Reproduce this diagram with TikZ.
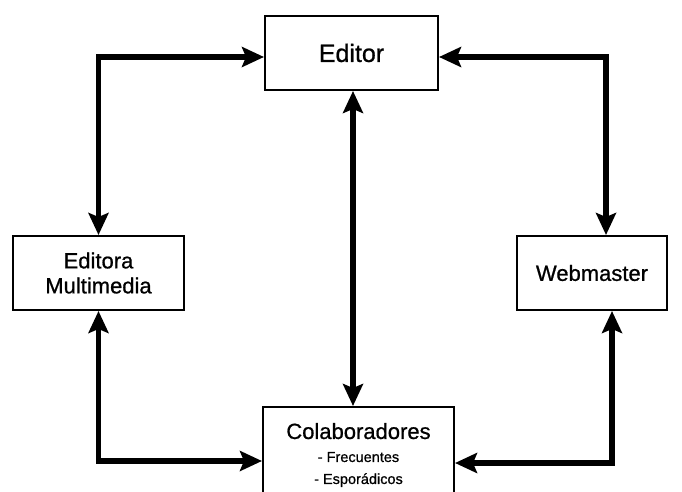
\documentclass[tikz,border=0pt]{standalone}
\usepackage{fontspec}
\setmainfont{Liberation Sans}[FakeBold=0.8]
\usetikzlibrary{arrows.meta}
\tikzset{
  box/.style={draw=black, line width=2pt, fill=white, inner sep=0pt, align=center,
    font=\fontsize{22}{25}\selectfont},
  conn/.style={line width=5.5pt, line join=miter,
    {Stealth[length=22pt,width=20pt,inset=4pt]}-{Stealth[length=22pt,width=20pt,inset=4pt]}}
}
\begin{document}
\begin{tikzpicture}[x=1pt,y=-1pt]
\clip (0,0) rectangle (682,492);
\fill[white] (0,0) rectangle (682,492);
\node[box, minimum width=173pt, minimum height=74pt, font=\fontsize{25}{28}\selectfont] (editor) at (351.5,53) {Editor};
\node[box, minimum width=171pt, minimum height=74pt] (editora) at (98.5,273) {Editora\\Multimedia};
\node[box, minimum width=150pt, minimum height=74pt] (webmaster) at (592,273) {Webmaster};
\node[box, minimum width=191pt, minimum height=96pt, anchor=north] (colab) at (358.5,406)
  {Colaboradores\\[-2pt]{\fontsize{14.5}{17}\selectfont - Frecuentes}\\[-3pt]{\fontsize{14.5}{17}\selectfont - Esporádicos}};
\draw[conn] ([yshift=-4pt]editor.west) -| (editora.north);
\draw[conn] ([yshift=-4pt]editor.east) -| ([xshift=14pt]webmaster.north);
\draw[conn] ([xshift=1.5pt]editor.south) -- ([xshift=1.5pt]editor.south |- colab.north);
\draw[conn] (editora.south) |- (colab.west |- 0,461);
\draw[conn] ([xshift=20pt]webmaster.south) |- (colab.east |- 0,463);
\end{tikzpicture}
\end{document}
